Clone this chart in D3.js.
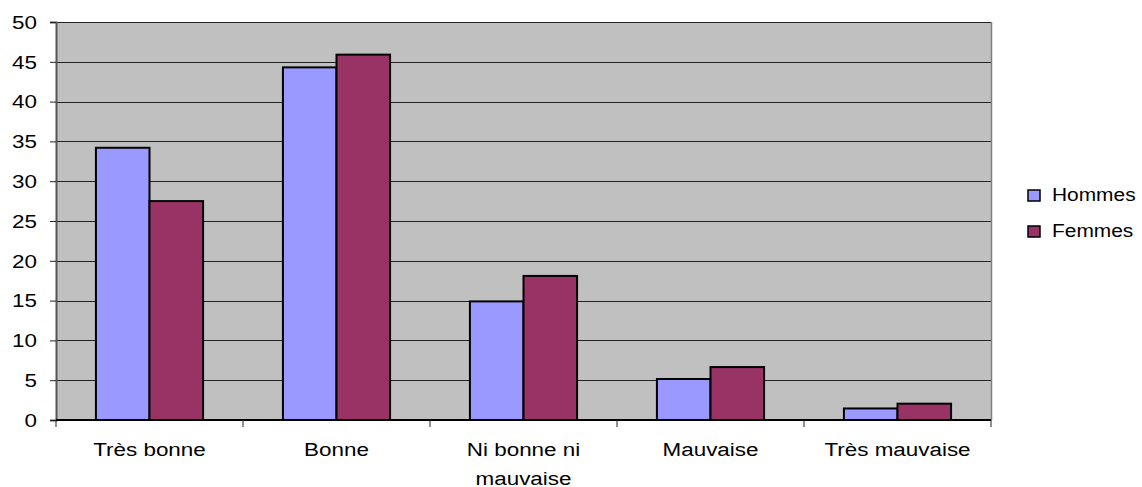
<!DOCTYPE html>
<html><head><meta charset="utf-8">
<script src="https://cdn.jsdelivr.net/npm/d3@7"></script>
<style>body{margin:0;background:#fff}svg{display:block}text{font-family:"Liberation Sans",Arial,sans-serif}</style>
</head><body>
<svg id="c" width="1142" height="487"></svg>
<script>
const categories = [["Très bonne"],["Bonne"],["Ni bonne ni","mauvaise"],["Mauvaise"],["Très mauvaise"]];
const series = ["Hommes","Femmes"];
const hommes = [34.2, 44.3, 14.9, 5.15, 1.45];
const femmes = [27.5, 45.9, 18.1, 6.65, 2.05];
const yTicks = [0,5,10,15,20,25,30,35,40,45,50];
const colors = ["#9999FF","#993366"];

const svg = d3.select("#c");
const L=56, R=991, T=22, B=420;
const FS=19, SX=1.18;
const x = d3.scaleBand().domain(d3.range(categories.length)).range([L,R]).paddingInner(0).paddingOuter(0);
const inner = d3.scaleBand().domain(d3.range(series.length)).range([0,x.bandwidth()]).paddingOuter(0.745).paddingInner(0);
const y = d3.scaleLinear().domain([0,50]).range([B,T]);

svg.append("rect").attr("x",L).attr("y",T).attr("width",R-L).attr("height",B-T).attr("fill","#C0C0C0");
svg.append("g").selectAll("line").data(yTicks.slice(1)).join("line")
  .attr("x1",L).attr("x2",R).attr("y1",d=>Math.round(y(d))+0.5).attr("y2",d=>Math.round(y(d))+0.5)
  .attr("stroke","#222").attr("stroke-width",1);
svg.append("line").attr("x1",R+0.5).attr("x2",R+0.5).attr("y1",T).attr("y2",B).attr("stroke","#808080").attr("stroke-width",1.5);

const data = [hommes,femmes];
data.forEach((vals,si)=>{
  svg.append("g").selectAll("rect").data(vals).join("rect")
    .attr("x",(d,i)=>x(i)+inner(si))
    .attr("y",d=>y(d))
    .attr("width",inner.bandwidth())
    .attr("height",d=>B-y(d))
    .attr("fill",colors[si]).attr("stroke","#000").attr("stroke-width",2);
});

// y axis
const ya = svg.append("g").attr("transform",`translate(${L},0)`)
  .call(d3.axisLeft(y).tickValues(yTicks).tickSize(6).tickPadding(6));
ya.select(".domain").attr("stroke","#555").attr("stroke-width",2);
ya.selectAll(".tick line").attr("stroke","#222");
ya.selectAll("text").attr("font-size",FS).attr("fill","#000").attr("font-family","Liberation Sans, Arial, sans-serif")
  .attr("x",0).attr("dy","0.33em").attr("transform",`translate(-19,0) scale(${SX},1)`);

// x axis
const xa = svg.append("g").attr("transform",`translate(0,${B})`);
xa.append("line").attr("x1",L).attr("x2",R).attr("y1",0).attr("y2",0).attr("stroke","#000").attr("stroke-width",2);
xa.selectAll("line.t").data(d3.range(categories.length+1)).join("line").attr("class","t")
  .attr("x1",d=>L+d*x.bandwidth()).attr("x2",d=>L+d*x.bandwidth()).attr("y1",0).attr("y2",7).attr("stroke","#222");
const lab = xa.selectAll("text").data(categories).join("text")
  .attr("text-anchor","middle").attr("font-size",FS).attr("fill","#000")
  .attr("transform",(d,i)=>`translate(${x(i)+x.bandwidth()/2},36) scale(${SX},1)`);
lab.each(function(d,i){
  d3.select(this).selectAll("tspan").data(d).join("tspan")
    .attr("x",0).attr("y",(t,j)=>j*29).text(t=>t);
});

// legend
const lg = svg.append("g");
series.forEach((s,i)=>{
  const yy = 195 + i*36;
  lg.append("rect").attr("x",1028).attr("y",yy-5).attr("width",12).attr("height",11)
    .attr("fill",colors[i]).attr("stroke","#000").attr("stroke-width",1.5);
  lg.append("text").attr("x",0).attr("y",0).attr("font-size",FS).attr("fill","#000")
    .attr("transform",`translate(1052,${yy+6}) scale(1.1,1)`).text(s);
});
</script>
</body></html>
